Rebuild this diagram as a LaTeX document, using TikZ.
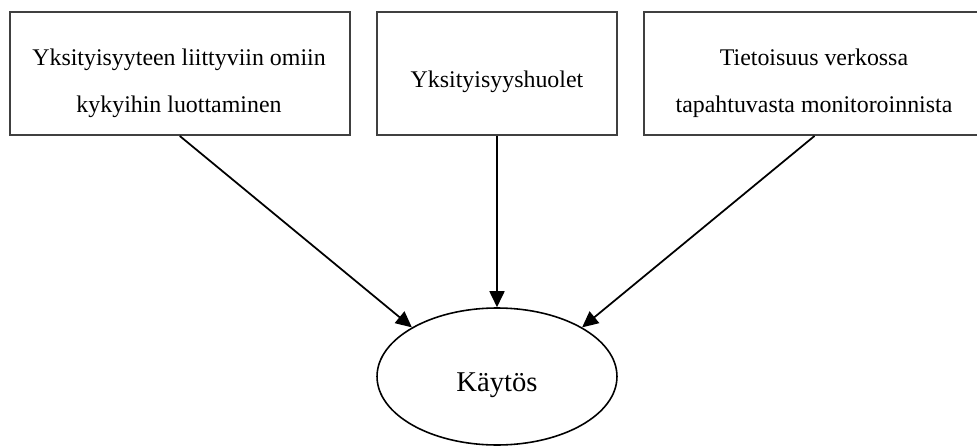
\documentclass[tikz,border=0pt]{standalone}
\usepackage{fontspec}
\setmainfont{Liberation Serif}
\usetikzlibrary{arrows.meta,shapes.geometric}
\begin{document}
\begin{tikzpicture}[x=0.02cm, y=-0.02cm,
    box/.style={draw=black!75, line width=1.1pt, minimum height=2.46cm, inner sep=0pt},
    boxtext/.style={align=center, inner sep=0pt, font=\fontsize{13.6}{26.75}\selectfont},
    arrow/.style={line width=1pt, -{Triangle[length=0.32cm, width=0.3cm]}}]
    \useasboundingbox (0,0) rectangle (977,446);
    % Boxes
    \node[box, minimum width=6.81cm] (kyvyt) at (179.75,73.5) {};
    \node[box, minimum width=4.8cm] (huolet) at (497,73.5) {};
    \node[box, minimum width=6.82cm] (tietoisuus) at (814.5,73.5) {};
    \node[boxtext] (kyvytteksti) at (179,83) {Yksityisyyteen liittyviin omiin\\kykyihin luottaminen};
    \node[boxtext] (huolettekst) at (497,81.4) {Yksityisyyshuolet};
    \node[boxtext] (tietoisuusteksti) at (814,83) {Tietoisuus verkossa\\tapahtuvasta monitoroinnista};
    % Ellipse
    \node[draw, ellipse, line width=0.9pt, minimum width=4.8cm, minimum height=2.74cm, inner sep=0pt] (kaytos) at (497,376.5) {};
    \node[font=\fontsize{16.3}{19}\selectfont, inner sep=0pt] (kaytosteksti) at (497,385) {Käytös};
    % Arrows
    \draw[arrow] (kyvyt.south) -- (kaytos.150);
    \draw[arrow] (huolet.south) -- (kaytos.north);
    \draw[arrow] (tietoisuus.south) -- (kaytos.30);
\end{tikzpicture}
\end{document}
